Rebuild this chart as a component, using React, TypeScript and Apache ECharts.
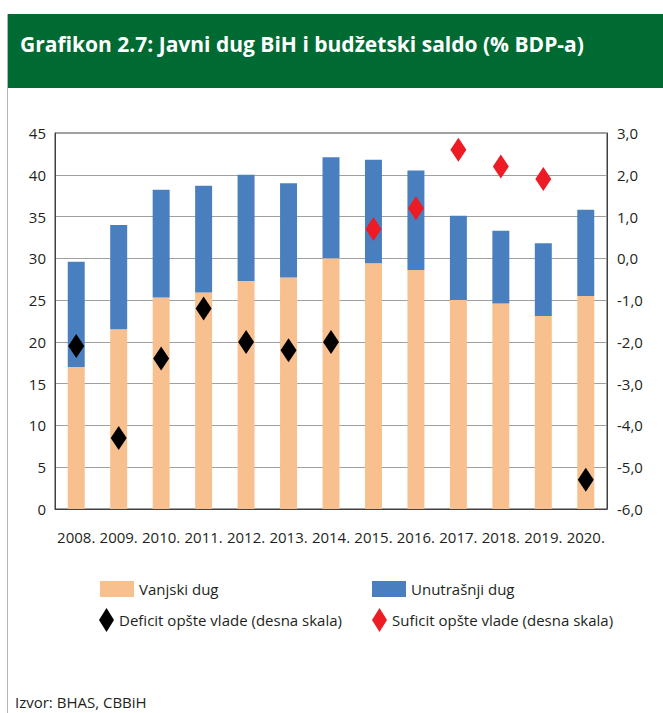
import React, { useEffect, useRef } from "react";
import * as echarts from "echarts";

const years = ["2008.", "2009.", "2010.", "2011.", "2012.", "2013.", "2014.", "2015.", "2016.", "2017.", "2018.", "2019.", "2020."];
const externalDebt = [17.0, 21.5, 25.3, 25.9, 27.3, 27.7, 30.0, 29.4, 28.6, 25.0, 24.6, 23.1, 25.5];
const domesticDebt = [12.6, 12.5, 12.9, 12.8, 12.7, 11.3, 12.1, 12.4, 11.9, 10.1, 8.7, 8.7, 10.3];
const deficit = [-2.1, -4.3, -2.4, -1.2, -2.0, -2.2, -2.0, null, null, null, null, null, -5.3];
const surplus = [null, null, null, null, null, null, null, 0.7, 1.2, 2.6, 2.2, 1.9, null];

const TITLE = "Grafikon 2.7: Javni dug BiH i budžetski saldo (% BDP-a)";
const SOURCE = "Izvor: BHAS, CBBiH";
const NAME_EXT = "Vanjski dug";
const NAME_DOM = "Unutrašnji dug";
const NAME_DEF = "Deficit opšte vlade (desna skala)";
const NAME_SUR = "Suficit opšte vlade (desna skala)";

const FONT = "'Open Sans', 'Noto Sans', sans-serif";
const TXT = "#231F20";

export default function App() {
  const ref = useRef<HTMLDivElement>(null);
  useEffect(() => {
    if (!ref.current) return;
    const chart = echarts.init(ref.current, undefined, { renderer: "svg" });
    const legendText = { fontFamily: FONT, fontSize: 15, color: TXT };
    chart.setOption({
      animation: false,
      backgroundColor: "#ffffff",
      textStyle: { fontFamily: FONT },
      grid: {
        left: 55,
        right: 56,
        top: 133,
        bottom: 204,
        show: true,
        borderColor: "#404040",
        borderWidth: 1,
        backgroundColor: "transparent",
      },
      graphic: [
        { type: "rect", shape: { x: 8, y: 14, width: 655, height: 74 }, style: { fill: "#006A33" }, silent: true },
        { type: "line", shape: { x1: 7.5, y1: 14, x2: 7.5, y2: 713 }, style: { stroke: "#B5B5B5", lineWidth: 1 }, silent: true },
        {
          type: "text",
          x: 20,
          y: 44,
          style: { text: TITLE, fill: "#ffffff", font: `bold 21px ${FONT}`, verticalAlign: "middle", align: "left" },
          silent: true,
        },
        {
          type: "text",
          x: 15,
          y: 694,
          style: { text: SOURCE, fill: TXT, font: `15px ${FONT}`, verticalAlign: "top", align: "left" },
          silent: true,
        },
      ],
      legend: [
        { data: [NAME_EXT], left: 100, top: 581, padding: 0, icon: "rect", itemWidth: 34, itemHeight: 16, textStyle: legendText, selectedMode: false },
        { data: [NAME_DOM], left: 372, top: 581, padding: 0, icon: "rect", itemWidth: 34, itemHeight: 16, textStyle: legendText, selectedMode: false },
        { data: [NAME_DEF], left: 99, top: 608, padding: 0, icon: "diamond", itemWidth: 15, itemHeight: 24, textStyle: legendText, selectedMode: false },
        { data: [NAME_SUR], left: 372, top: 608, padding: 0, icon: "diamond", itemWidth: 15, itemHeight: 24, textStyle: legendText, selectedMode: false },
      ],
      xAxis: {
        type: "category",
        data: years,
        axisLine: { show: true, lineStyle: { color: "#404040", width: 1 } },
        axisTick: { show: false },
        axisLabel: { interval: 0, fontSize: 15, fontFamily: FONT, color: TXT, margin: 20 },
      },
      yAxis: [
        {
          type: "value",
          min: 0,
          max: 45,
          interval: 5,
          axisLine: { show: true, lineStyle: { color: "#404040", width: 1 } },
          axisTick: { show: false },
          axisLabel: { fontSize: 15, fontFamily: FONT, color: TXT, margin: 9 },
          splitLine: { show: true, lineStyle: { color: "#A0A0A0", width: 1 } },
        },
        {
          type: "value",
          min: -6,
          max: 3,
          interval: 1,
          position: "right",
          axisLine: { show: true, lineStyle: { color: "#404040", width: 1 } },
          axisTick: { show: false },
          axisLabel: {
            fontSize: 15,
            fontFamily: FONT,
            color: TXT,
            margin: 10,
            formatter: (v: number) => v.toFixed(1).replace(".", ","),
          },
          splitLine: { show: false },
        },
      ],
      series: [
        {
          name: NAME_EXT,
          type: "bar",
          stack: "debt",
          data: externalDebt,
          barWidth: "40%",
          itemStyle: { color: "#F9C08F" },
          yAxisIndex: 0,
        },
        {
          name: NAME_DOM,
          type: "bar",
          stack: "debt",
          data: domesticDebt,
          barWidth: "40%",
          itemStyle: { color: "#4A7FBF" },
          yAxisIndex: 0,
        },
        {
          name: NAME_DEF,
          type: "scatter",
          yAxisIndex: 1,
          data: deficit,
          symbol: "diamond",
          symbolSize: [16, 24],
          itemStyle: { color: "#000000", opacity: 1 },
          z: 5,
        },
        {
          name: NAME_SUR,
          type: "scatter",
          yAxisIndex: 1,
          data: surplus,
          symbol: "diamond",
          symbolSize: [16, 24],
          itemStyle: { color: "#ED1C24", opacity: 1 },
          z: 5,
        },
      ],
    });
    return () => chart.dispose();
  }, []);
  return <div ref={ref} style={{ position: "fixed", left: 0, top: 0, width: 663, height: 713 }} />;
}
